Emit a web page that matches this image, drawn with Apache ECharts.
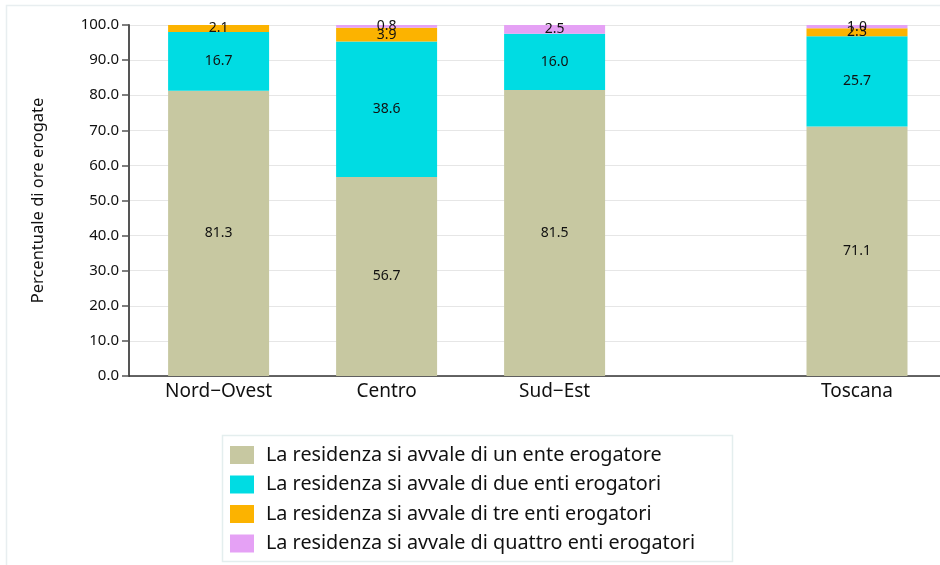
<!DOCTYPE html>
<html>
<head>
<meta charset="utf-8">
<script src="https://cdn.jsdelivr.net/npm/echarts@6/dist/echarts.min.js"></script>
<style>
  html, body { margin: 0; padding: 0; background: #fff; }
  #chart { width: 940px; height: 565px; }
</style>
</head>
<body>
<div id="chart"></div>
<script>
// Areas and their positions along the horizontal axis (Toscana set apart)
const categories = ['Nord\u2212Ovest', 'Centro', 'Sud\u2212Est', 'Toscana'];
const positions = [1, 2, 3, 4.8];

const seriesNames = [
  'La residenza si avvale di un ente erogatore',
  'La residenza si avvale di due enti erogatori',
  'La residenza si avvale di tre enti erogatori',
  'La residenza si avvale di quattro enti erogatori'
];
const unEnte = [81.3, 56.7, 81.5, 71.1];
const dueEnti = [16.7, 38.6, 16.0, 25.7];
const treEnti = [2.1, 3.9, 0, 2.3];
const quattroEnti = [0, 0.8, 2.5, 1.0];

const yTicks = [0, 10, 20, 30, 40, 50, 60, 70, 80, 90, 100];

const colors = ['#c7c8a1', '#00dce3', '#fcb300', '#e5a1f5'];
const FONT = 'Noto Sans';

// The horizontal axis is a fine grid of slots (15 per unit) so that the
// gap before Toscana can be shown while the bars still stack.
const SLOTS_PER_UNIT = 15;
const FIRST_SLOT = 8;
const SLOT_COUNT = 76;
const slotOf = p => Math.round((p - positions[0]) * SLOTS_PER_UNIT) + FIRST_SLOT;

const slotNames = new Array(SLOT_COUNT).fill('');
positions.forEach((p, i) => { slotNames[slotOf(p)] = categories[i]; });

function slotData(values) {
  const arr = new Array(SLOT_COUNT).fill('-');
  positions.forEach((p, i) => { arr[slotOf(p)] = values[i]; });
  return arr;
}

const chart = echarts.init(document.getElementById('chart'));

function makeSeries(name, values, color) {
  return {
    name: name,
    type: 'bar',
    stack: 'tot',
    barWidth: 101,
    itemStyle: { color: color },
    label: {
      show: true,
      position: 'inside',
      color: '#111',
      fontFamily: FONT,
      fontSize: 14,
      formatter: p => (p.value ? Number(p.value).toFixed(1) : '')
    },
    emphasis: { disabled: true },
    data: slotData(values)
  };
}

chart.setOption({
  animation: false,
  color: colors,
  textStyle: { fontFamily: FONT },
  grid: {
    left: 129, top: 25, width: 840, height: 351,
    containLabel: false,
    outerBoundsMode: 'none'
  },
  xAxis: {
    type: 'category',
    boundaryGap: false,
    data: slotNames,
    splitLine: { show: false },
    axisTick: { show: false },
    axisLine: { lineStyle: { color: '#333', width: 1.5 } },
    axisLabel: {
      interval: 0,
      color: '#111',
      fontSize: 19,
      margin: 6,
      fontFamily: FONT
    }
  },
  yAxis: {
    type: 'value',
    min: yTicks[0],
    max: yTicks[yTicks.length - 1],
    interval: yTicks[1] - yTicks[0],
    name: 'Percentuale di ore erogate',
    nameLocation: 'middle',
    nameGap: 82,
    nameTextStyle: { fontSize: 16.5, color: '#111', fontFamily: FONT },
    axisLine: { show: true, lineStyle: { color: '#555', width: 2 } },
    axisTick: { show: true, length: 7, lineStyle: { color: '#555', width: 1.5 } },
    axisLabel: {
      color: '#111',
      fontSize: 15,
      margin: 10,
      fontFamily: FONT,
      formatter: v => v.toFixed(1)
    },
    splitLine: { lineStyle: { color: '#e6e6e6', width: 1 } }
  },
  legend: {
    orient: 'vertical',
    left: 222,
    top: 435,
    height: 160,
    padding: [10, 8, 8, 8],
    itemGap: 9.5,
    itemWidth: 24,
    itemHeight: 18,
    icon: 'rect',
    selectedMode: false,
    textStyle: { fontSize: 19.8, lineHeight: 18, color: '#111', fontFamily: FONT, padding: [0, 0, 0, 7] },
    data: seriesNames
  },
  graphic: [
    {
      type: 'rect',
      silent: true,
      z: -1,
      shape: { x: 6.5, y: 5.5, width: 1000, height: 1000 },
      style: { fill: 'none', stroke: '#e8eef0', lineWidth: 1.5 }
    },
    {
      type: 'rect',
      silent: true,
      z: -1,
      shape: { x: 222.5, y: 435.5, width: 510, height: 126 },
      style: { fill: 'none', stroke: '#e4eeee', lineWidth: 1.5 }
    }
  ],
  series: [
    makeSeries(seriesNames[0], unEnte, colors[0]),
    makeSeries(seriesNames[1], dueEnti, colors[1]),
    makeSeries(seriesNames[2], treEnti, colors[2]),
    makeSeries(seriesNames[3], quattroEnti, colors[3])
  ]
});
</script>
</body>
</html>
